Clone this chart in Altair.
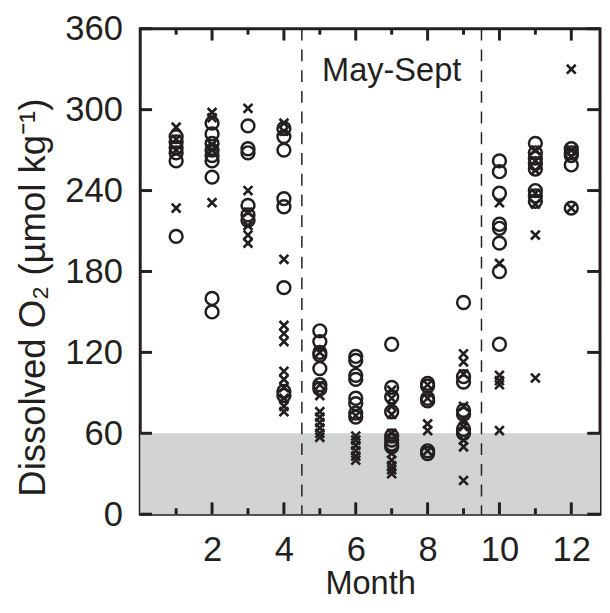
import altair as alt
import pandas as pd

# ---- data ----
circ_m1 = [280, 276, 272, 268, 262, 206]
circ_m2 = [290, 282, 275, 270, 266, 262, 250, 160, 150]
circ_m3 = [288, 271, 268, 229, 222, 218]
circ_m4 = [286, 280, 270, 234, 228, 168, 91, 88]
circ_m5 = [136, 128, 120, 118, 108, 96, 93]
circ_m6 = [117, 114, 103, 100, 86, 82, 75, 72]
circ_m7 = [126, 94, 87, 76, 58, 55, 52, 50]
circ_m8 = [97, 95, 86, 84, 47, 45]
circ_m9 = [157, 102, 98, 77, 74, 63, 60]
circ_m10 = [262, 254, 238, 215, 212, 201, 180, 126]
circ_m11 = [275, 268, 264, 260, 256, 240, 236, 232]
circ_m12 = [271, 268, 266, 259, 227]

cross_m1 = [287, 278, 270, 227]
cross_m2 = [298, 294, 274, 270, 231]
cross_m3 = [301, 240, 224, 214, 207, 201]
cross_m4 = [290, 284, 189, 140, 134, 128, 106, 100, 94, 86, 80, 76]
cross_m5 = [120, 96, 88, 76, 72, 68, 64, 60, 57]
cross_m6 = [73, 58, 55, 51, 47, 43, 40]
cross_m7 = [92, 86, 80, 74, 60, 45, 40, 36, 33, 30]
cross_m8 = [96, 86, 67, 62, 47]
cross_m9 = [119, 113, 104, 80, 70, 65, 55, 50, 25]
cross_m10 = [231, 186, 103, 99, 96, 62]
cross_m11 = [270, 262, 255, 238, 230, 207, 101]
cross_m12 = [330, 270, 265, 227]

circles = [circ_m1, circ_m2, circ_m3, circ_m4, circ_m5, circ_m6,
           circ_m7, circ_m8, circ_m9, circ_m10, circ_m11, circ_m12]
crosses = [cross_m1, cross_m2, cross_m3, cross_m4, cross_m5, cross_m6,
           cross_m7, cross_m8, cross_m9, cross_m10, cross_m11, cross_m12]

months = list(range(1, 13))
x_labels = [2, 4, 6, 8, 10, 12]
y_ticks = [0, 60, 120, 180, 240, 300, 360]
season_bounds = [4.5, 9.5]
hypoxia_limit = 60
season_label = "May-Sept"

x_domain = [0, 12.8]
y_domain = [0, 360]

INK = "#231f20"
GREY = "#d1d3d4"
FONT = "Liberation Sans"
W, H = 466, 492

circ_df = pd.DataFrame([(m, v) for m, vals in zip(months, circles) for v in vals],
                       columns=["month", "o2"])
cross_df = pd.DataFrame([(m, v) for m, vals in zip(months, crosses) for v in vals],
                        columns=["month", "o2"])

xs = alt.Scale(domain=x_domain, nice=False, zero=False)
ys = alt.Scale(domain=y_domain, nice=False)

x_axis = alt.Axis(values=x_labels, title="Month", grid=False, domain=False, ticks=False,
                  tickSize=0, labelFontSize=35, titleFontSize=33, labelPadding=19,
                  titlePadding=0, labelFont=FONT, titleFont=FONT, labelColor=INK,
                  titleColor=INK, titleFontWeight="normal", labelFlush=False)
y_axis = alt.Axis(values=y_ticks, title="Dissolved O\u2082 (\u00b5mol kg\u207b\u00b9)", grid=False,
                  domain=False, ticks=False, tickSize=0, labelFontSize=35, titleFontSize=37,
                  labelPadding=18, titlePadding=13, titleY=H / 2 + 26,
                  labelFont=FONT, titleFont=FONT,
                  labelColor=INK, titleColor=INK, titleFontWeight="normal", labelFlush=False)

band = alt.Chart(pd.DataFrame({"y0": [0], "y1": [hypoxia_limit]})).mark_rect(
    color=GREY).encode(
    x=alt.value(0), x2=alt.value(W),
    y=alt.Y("y0:Q", scale=ys, axis=y_axis), y2="y1:Q")

dash = alt.Chart(pd.DataFrame({"x": season_bounds})).mark_rule(
    color=INK, strokeWidth=1.5, strokeDash=[12, 9]).encode(
    x=alt.X("x:Q", scale=xs, axis=x_axis), y=alt.value(0), y2=alt.value(H))

label = alt.Chart(pd.DataFrame({"x": [sum(season_bounds) / 2], "t": [season_label]})).mark_text(
    font=FONT, fontSize=33, color=INK, baseline="middle").encode(
    x=alt.X("x:Q", scale=xs), y=alt.value(43), text="t:N")

circ = alt.Chart(circ_df).mark_point(
    shape="circle", filled=False, color=INK, size=170, strokeWidth=2.5, opacity=1).encode(
    x=alt.X("month:Q", scale=xs), y=alt.Y("o2:Q", scale=ys))

cross = alt.Chart(cross_df).mark_point(
    shape="M-1,-1L1,1M-1,1L1,-1", filled=False, color=INK, size=80, strokeWidth=2.7,
    opacity=1).encode(
    x=alt.X("month:Q", scale=xs), y=alt.Y("o2:Q", scale=ys))

tick_df = pd.DataFrame({"m": months, "long": [m % 2 == 0 for m in months]})
xt_long = tick_df[tick_df["long"]]
xt_short = tick_df[~tick_df["long"]]

def xticks(df, y0, y1):
    return alt.Chart(df).mark_rule(color=INK, strokeWidth=3).encode(
        x=alt.X("m:Q", scale=xs), y=alt.value(y0), y2=alt.value(y1))

def yticks(x0, x1):
    return alt.Chart(pd.DataFrame({"v": y_ticks})).mark_rule(color=INK, strokeWidth=3).encode(
        y=alt.Y("v:Q", scale=ys), x=alt.value(x0), x2=alt.value(x1))

ticks = [xticks(xt_long, H, H - 12), xticks(xt_short, H, H - 6),
         xticks(xt_long, 0, 12), xticks(xt_short, 0, 6),
         yticks(0, 12), yticks(W, W - 13)]

chart = alt.layer(band, dash, label, circ, cross, *ticks).properties(
    width=W, height=H,
    autosize=alt.AutoSizeParams(type="none"),
    padding={"left": 134, "top": 17, "right": 2, "bottom": 88},
).configure_view(stroke=INK, strokeWidth=3)

chart.save("out.html", embed_options={"renderer": "svg", "actions": False})
